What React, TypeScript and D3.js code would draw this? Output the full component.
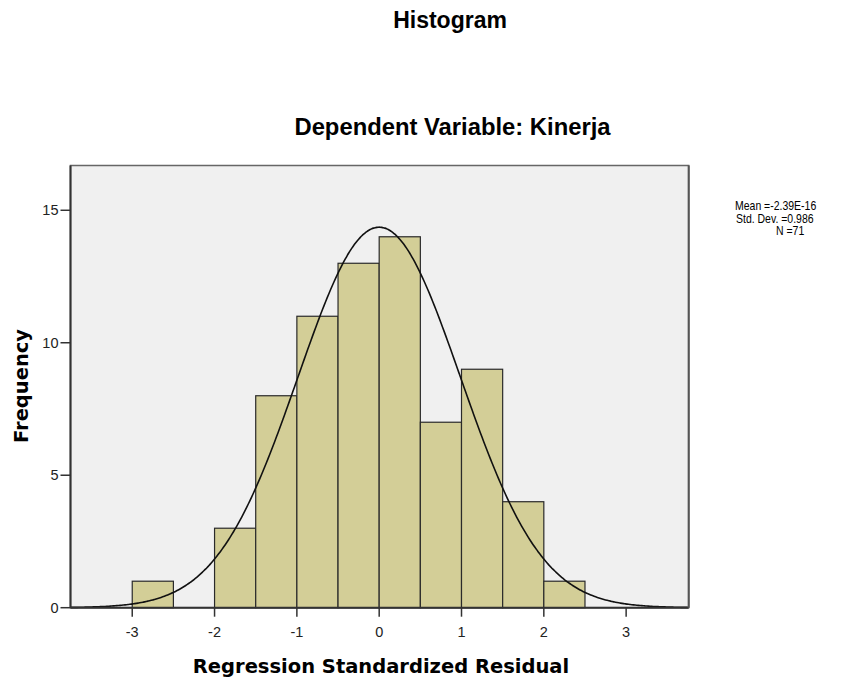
import React from "react";
import * as d3 from "d3";

const binStarts = [-3, -2.5, -2, -1.5, -1, -0.5, 0, 0.5, 1, 1.5, 2];
const counts = [1, 0, 3, 8, 11, 13, 14, 7, 9, 4, 1];
const binWidth = 0.5;
const xTicks = [-3, -2, -1, 0, 1, 2, 3];
const yTicks = [0, 5, 10, 15];
const meanValue = -2.39e-16;
const stdDev = 0.986;
const nCount = 71;
const legendLines = ["Mean =-2.39E-16", "Std. Dev. =0.986", "N =71"];

const W = 863;
const H = 682;
const left = 70.5, right = 688.7, top = 165.5, bottom = 607.7;
const legendX = [735, 736, 776];

export default function App() {
  const x = d3.scaleLinear().domain([-3.75, 3.76]).range([left, right]);
  const y = d3.scaleLinear().domain([0, 16.69]).range([bottom, top]);

  const pdf = (v: number) =>
    (nCount * binWidth) / (stdDev * Math.sqrt(2 * Math.PI)) *
    Math.exp(-0.5 * ((v - meanValue) / stdDev) ** 2);
  const curvePts = d3.range(-3.75, 3.7601, 0.02).map((v) => [v, pdf(v)] as [number, number]);
  const line = d3.line<[number, number]>().x((d) => x(d[0])).y((d) => y(d[1])).curve(d3.curveBasis);

  const bins = binStarts.map((s, i) => ({ s, c: counts[i] })).filter((b) => b.c > 0);

  return (
    <svg width={W} height={H} style={{ position: "absolute", left: 0, top: 0, background: "#fff" }}>
      <text x={450} y={28} textAnchor="middle" fontFamily="Liberation Sans, Arial" fontWeight="bold" fontSize={23} fill="#000">Histogram</text>
      <text x={452.5} y={135} textAnchor="middle" fontFamily="Liberation Sans, Arial" fontWeight="bold" fontSize={23.8} fill="#000">Dependent Variable: Kinerja</text>

      <rect x={left} y={top} width={right - left} height={bottom - top} fill="#f0f0f0" stroke="#666" strokeWidth={1.5} />

      {bins.map((b, i) => (
        <rect key={i} x={x(b.s)} y={y(b.c)} width={x(b.s + binWidth) - x(b.s)} height={bottom - y(b.c)}
          fill="#d3ce97" stroke="#2a2a2a" strokeWidth={1.2} />
      ))}

      <path d={line(curvePts) || ""} fill="none" stroke="#111" strokeWidth={1.6} />

      <line x1={left} x2={left} y1={top} y2={bottom} stroke="#333" strokeWidth={2} />
      <line x1={left} x2={right} y1={bottom} y2={bottom} stroke="#333" strokeWidth={2} />
      <line x1={right} x2={right} y1={top} y2={bottom} stroke="#555" strokeWidth={2} />

      {yTicks.map((t) => (
        <g key={t}>
          <line x1={left - 10} x2={left} y1={y(t)} y2={y(t)} stroke="#333" strokeWidth={1.5} />
          <text x={left - 12} y={y(t) + 5} textAnchor="end" fontFamily="Liberation Sans, Arial" fontSize={14.5} fill="#222">{t}</text>
        </g>
      ))}
      {xTicks.map((t) => (
        <g key={t}>
          <line x1={x(t)} x2={x(t)} y1={bottom} y2={bottom + 9} stroke="#333" strokeWidth={1.5} />
          <text x={x(t)} y={bottom + 29} textAnchor="middle" fontFamily="Liberation Sans, Arial" fontSize={14.5} fill="#222">{t}</text>
        </g>
      ))}

      <text x={381} y={673} textAnchor="middle" fontFamily="DejaVu Sans, Verdana" fontWeight="bold" fontSize={19.5} fill="#000">Regression Standardized Residual</text>
      <text transform={`translate(28,386) rotate(-90)`} textAnchor="middle" fontFamily="DejaVu Sans, Verdana" fontWeight="bold" fontSize={19.5} fill="#000">Frequency</text>

      {legendLines.map((s, i) => (
        <text key={i} transform={`translate(${legendX[i]},${210 + i * 12.5}) scale(0.86,1)`} x={0} y={0}
          fontFamily="Liberation Sans, Arial" fontSize={12.2} fill="#000">{s}</text>
      ))}
    </svg>
  );
}
